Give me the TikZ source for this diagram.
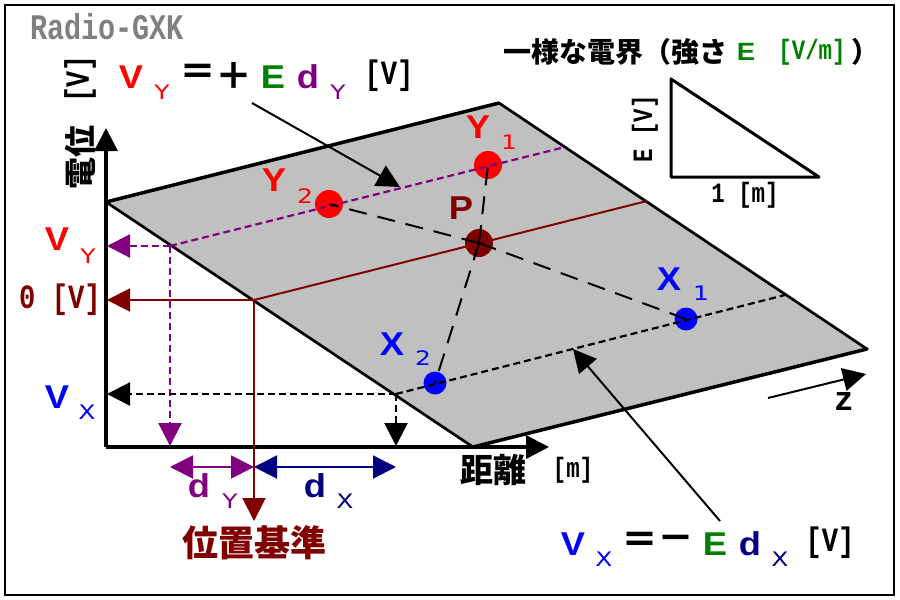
\documentclass[tikz,border=0pt]{standalone}
\usepackage{fontspec}
\usepackage{xcolor}
\setmainfont{DejaVu Sans}
\newfontfamily\symfont{Liberation Sans}
\newfontfamily\jpfont{Noto Sans CJK JP}
\newfontfamily\gothfont{Liberation Mono}
\usetikzlibrary{arrows.meta}
\definecolor{potred}{HTML}{800000}
\definecolor{potpurple}{HTML}{800080}
\definecolor{potgreen}{HTML}{008000}
\definecolor{potnavy}{HTML}{000080}
\definecolor{platecol}{HTML}{C0C0C0}
\tikzset{%
bigtip/.style={-{Triangle[length=23pt,width=23pt]}},
bothtip/.style={{Triangle[length=23pt,width=23pt]}-{Triangle[length=23pt,width=23pt]}},
sym/.style={font=\fontsize{33}{33}\symfont\bfseries,inner sep=0,xscale=1.1},
subsym/.style={font=\fontsize{20}{20}\selectfont,inner sep=0,xscale=1.25},
gothtxt/.style={font=\fontsize{28}{28}\gothfont\bfseries,inner sep=0,xscale=.8},
gothbig/.style={font=\fontsize{34}{34}\gothfont\bfseries,inner sep=0,xscale=.8},
jptxt/.style={font=\fontsize{28}{28}\jpfont\bfseries,inner sep=0},
opsym/.style={font=\fontsize{37}{37}\jpfont\bfseries,inner sep=0},
charge/.style={circle,fill,inner sep=0,minimum size=#1},
longdash/.style={dash pattern=on 18pt off 11pt,line width=2pt},
shortdash/.style={dash pattern=on 7pt off 4pt,line width=2.2pt}
}
\begin{document}
\begin{tikzpicture}[x=1pt,y=-1pt]
  \useasboundingbox (0,0) rectangle (900,600);
  \node[draw,line width=2pt,minimum width=889pt,minimum height=590pt,inner sep=0] (frame) at (449.5,300) {};

  % plate corners and foot points
  \coordinate (pA) at (106,202);
  \coordinate (pB) at (499,103);
  \coordinate (pC) at (867,349);
  \coordinate (pD) at (473,447);
  \coordinate (org) at (106,447);
  \coordinate (ytop) at (106,128);
  \coordinate (xend) at (549,447);
  \coordinate (yL) at (170,246);
  \coordinate (yR) at (565,147);
  \coordinate (zL) at (254,300);
  \coordinate (zR) at (647,201);
  \coordinate (xL) at (396,394);
  \coordinate (xR) at (785,295);

  \fill[platecol] (pA) -- (pB) -- (pC) -- (pD) -- cycle;

  % axes
  \draw[line width=3.5pt,bigtip] (org) -- (ytop);
  \draw[line width=3.5pt,bigtip] (org) -- (xend);
  \draw[line width=3.5pt,line cap=round] (pA) -- (pB);
  \draw[line width=3.5pt,line cap=round] (pD) -- (pC);
  \draw[line width=2.7pt,line cap=round] (pA) -- (pD);
  \draw[line width=2.7pt,line cap=round] (pB) -- (pC);

  % charges
  \node[charge=28pt,red] (Y1) at (488,165) {};
  \node[charge=28pt,red] (Y2) at (329,204) {};
  \node[charge=28pt,potred] (P) at (479,243) {};
  \node[charge=23pt,blue] (X1) at (686,319) {};
  \node[charge=23pt,blue] (X2) at (435,383) {};

  % level lines
  \draw[potpurple,shortdash] (yL) -- (yR);
  \draw[potred,line width=2pt] (zL) -- (zR);
  \draw[shortdash] (xL) -- (xR);
  \draw[longdash] (P.center) -- (Y2.center);
  \draw[longdash] (P.center) -- (X1.center);
  \draw[longdash] (P.center) -- (Y1.center);
  \draw[longdash] (P.center) -- (X2.center);

  % projections
  \draw[potpurple,shortdash,bigtip] (yL) -- (107,246);
  \draw[potpurple,shortdash,bigtip] (yL) -- (170,446);
  \draw[potred,line width=2pt,bigtip] (zL) -- (107,300);
  \draw[potred,line width=2pt,bigtip] (zL) -- (254,521);
  \draw[shortdash,bigtip] (xL) -- (107,394);
  \draw[shortdash,bigtip] (xL) -- (396,446);
  \coordinate (dM) at (254,467);
  \draw[potpurple,line width=2pt,bothtip] (170,467) -- (dM);
  \draw[potnavy,line width=2pt,bothtip] (dM) -- (396,467);

  % pointers
  \coordinate (vyfrom) at (252,103);
  \coordinate (vyto) at (400,187);
  \coordinate (vxfrom) at (720,521);
  \coordinate (vxto) at (573,349);
  \coordinate (zfrom) at (768,398);
  \coordinate (zto) at (866,374);
  \draw[line width=2pt,bigtip] (vyfrom) -- (vyto);
  \draw[line width=2pt,bigtip] (vxfrom) -- (vxto);
  \draw[line width=2pt,bigtip] (zfrom) -- (zto);

  % small triangle
  \draw[line width=3pt,line join=round] (671,79) -- (671,177) -- (819,177) -- cycle;

  % top formula
  \node[sym,red] (vy) at (131,77) {V};
  \node[subsym,red] (vysub) at (162,92) {Y};
  \node[opsym] (eqa) at (198,75) {＝};
  \node[opsym] (plus) at (234,76) {＋};
  \node[sym,potgreen] (ea) at (273,77) {E};
  \node[sym,potpurple] (da) at (308,77) {d};
  \node[subsym,potpurple] (dasub) at (338,92) {Y};
  \node[gothbig] (unita) at (389,76) {[V]};

  % bottom formula
  \node[sym,blue] (vx) at (573,544) {V};
  \node[subsym,blue] (vxsub) at (604,559) {X};
  \node[opsym] (eqb) at (640,543) {＝};
  \node[opsym] (minus) at (676,543) {－};
  \node[sym,potgreen] (eb) at (715,544) {E};
  \node[sym,potnavy] (db) at (750,544) {d};
  \node[subsym,potnavy] (dbsub) at (780,559) {X};
  \node[gothbig] (unitb) at (830,543) {[V]};

  % axis labels
  \node[rotate=90,gothbig,xscale=.98] (vlabel) at (80,79) {[V]};
  \node[rotate=90,jptxt,font=\fontsize{32}{32}\jpfont\bfseries] (dni) at (80,157) {電位};
  \node[jptxt,font=\fontsize{33}{33}\jpfont\bfseries] (kyori) at (493,470) {距離};
  \node[gothtxt] (munit) at (573,470) {[m]};
  \node[sym,red] (vyl) at (57,239) {V};
  \node[subsym,red] (vylsub) at (88,256) {Y};
  \node[gothbig,potred] (zero) at (60,300) {0 [V]};
  \node[sym,blue] (vxl) at (57,397) {V};
  \node[subsym,blue] (vxlsub) at (87,412) {X};
  \node[gothbig,xscale=1.2] (zlabel) at (844,402) {z};

  % charge labels
  \node[sym,red] (ty2) at (274,180) {Y};
  \node[subsym,red] (ty2s) at (305,196) {2};
  \node[sym,red] (ty1) at (478,127) {Y};
  \node[subsym,red] (ty1s) at (509,142) {1};
  \node[sym,potred] (tp) at (461,208) {P};
  \node[sym,blue] (tx1) at (669,279) {X};
  \node[subsym,blue] (tx1s) at (701,293) {1};
  \node[sym,blue] (tx2) at (392,344) {X};
  \node[subsym,blue] (tx2s) at (423,358) {2};

  % d labels
  \node[sym,potpurple] (dy) at (199,486) {d};
  \node[subsym,potpurple] (dysub) at (230,501) {Y};
  \node[sym,potnavy] (dx) at (315,486) {d};
  \node[subsym,potnavy] (dxsub) at (345,501) {X};
  \node[jptxt,potred,font=\fontsize{36}{36}\jpfont\bfseries] (posref) at (254,543) {位置基準};

  % title and triangle labels
  \node[gothtxt,gray,font=\fontsize{36}{36}\gothfont\bfseries,xscale=.99] (brand) at (107,27) {Radio-GXK};
  \node[jptxt,anchor=west] (ttl) at (503,52) {一様な電界（強さ};
  \node[sym,potgreen,font=\fontsize{25}{25}\symfont\bfseries] (te) at (746,52) {E};
  \node[gothtxt,potgreen] (tunit) at (812,52) {[V/m]};
  \node[jptxt] (tclose) at (865,52) {）};
  \node[rotate=90,gothtxt] (triv) at (645,129) {E [V]};
  \node[gothtxt] (trim) at (745,195) {1 [m]};
\end{tikzpicture}
\end{document}
